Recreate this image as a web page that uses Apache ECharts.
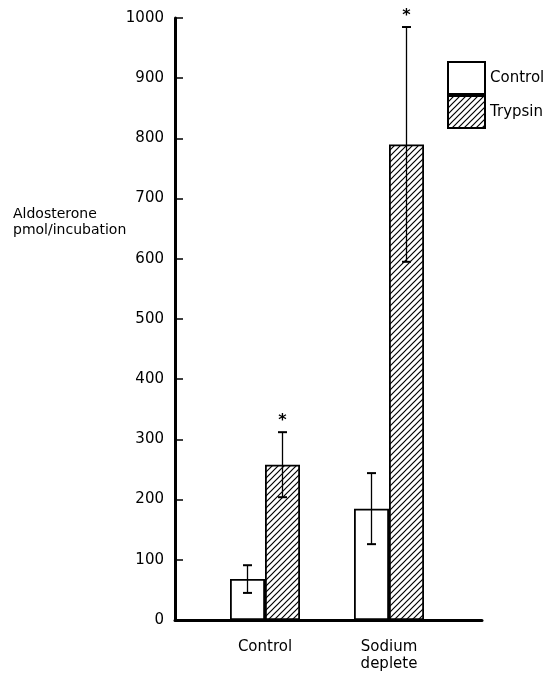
<!DOCTYPE html>
<html>
<head>
<meta charset="utf-8">
<script src="https://cdn.jsdelivr.net/npm/echarts@6/dist/echarts.min.js"></script>
<style>
  html, body { margin: 0; padding: 0; background: #fff; }
  #chart { width: 544px; height: 674px; }
</style>
</head>
<body>
<div id="chart"></div>
<script>
// ---- data ----
const categories = ['Control', 'Sodium\ndeplete'];
const seriesNames = ['Control', 'Trypsin'];
const controlMean = [68, 185];
const controlErr = [23, 59];
const trypsinMean = [258, 790];
const trypsinErr = [54, 195];
const trypsinSignificant = [true, true];
const yTicks = [0, 100, 200, 300, 400, 500, 600, 700, 800, 900, 1000];
const yAxisTitle = 'Aldosterone\npmol/incubation';

// ---- styling ----
const FONT = 'DejaVu Sans';
const BAR_W = 35;

function hatchPattern() {
  const c = document.createElement('canvas');
  const s = 6;
  c.width = s; c.height = s;
  const ctx = c.getContext('2d');
  ctx.fillStyle = '#fff';
  ctx.fillRect(0, 0, s, s);
  ctx.strokeStyle = '#000';
  ctx.lineWidth = 1.2;
  ctx.beginPath();
  ctx.moveTo(-1, s + 1); ctx.lineTo(s + 1, -1);
  ctx.moveTo(-1, 1); ctx.lineTo(1, -1);
  ctx.moveTo(s - 1, s + 1); ctx.lineTo(s + 1, s - 1);
  ctx.stroke();
  return c;
}

function errData(means, errs, side, stars) {
  return means.map((m, i) => [i, m, errs[i], side, stars && stars[i] ? 1 : 0]);
}

function renderErr(params, api) {
  const i = api.value(0), m = api.value(1), e = api.value(2), side = api.value(3), star = api.value(4);
  const top = api.coord([i, m + e]);
  const bot = api.coord([i, m - e]);
  const x = top[0] + side * BAR_W / 2;
  const capW = 4.5;
  const children = [
    { type: 'line', shape: { x1: x, y1: top[1], x2: x, y2: bot[1] }, style: { stroke: '#000', lineWidth: 1.3 } },
    { type: 'line', shape: { x1: x - capW, y1: top[1], x2: x + capW, y2: top[1] }, style: { stroke: '#000', lineWidth: 2 } },
    { type: 'line', shape: { x1: x - capW, y1: bot[1], x2: x + capW, y2: bot[1] }, style: { stroke: '#000', lineWidth: 2 } }
  ];
  if (star) {
    children.push({ type: 'text', style: { text: '*', x: x, y: top[1] - 3, align: 'center', verticalAlign: 'bottom', font: 'bold 16px "' + FONT + '"', fill: '#000' } });
  }
  return { type: 'group', children: children };
}

const chart = echarts.init(document.getElementById('chart'), null, { renderer: 'canvas' });
const hatch = { image: hatchPattern(), repeat: 'repeat' };

chart.setOption({
  animation: false,
  backgroundColor: '#fff',
  title: {
    text: yAxisTitle, left: 8, top: 201,
    textStyle: { fontFamily: FONT, fontSize: 14, fontWeight: 'normal', color: '#000', lineHeight: 16 }
  },
  legend: {
    orient: 'vertical', left: 442, top: 56, itemWidth: 37, itemHeight: 32, itemGap: 0,
    icon: 'rect', data: seriesNames,
    textStyle: { fontFamily: FONT, fontSize: 15, color: '#000' }
  },
  grid: [
    { left: 203, width: 248, top: 18, height: 602 },
    { left: 175, width: 307, top: 18, height: 602 }
  ],
  xAxis: [
    {
      type: 'category', gridIndex: 0, data: categories,
      axisLine: { show: false }, axisTick: { show: false },
      axisLabel: { margin: 19, fontFamily: FONT, fontSize: 15, color: '#000', lineHeight: 17 }
    },
    {
      type: 'value', gridIndex: 1, min: 0, max: 1,
      axisLine: { show: true, onZero: false, lineStyle: { color: '#000', width: 3 } },
      axisTick: { show: false }, axisLabel: { show: false }, splitLine: { show: false }
    }
  ],
  yAxis: [
    { type: 'value', gridIndex: 0, min: 0, max: 1000, interval: 100, show: false },
    {
      type: 'value', gridIndex: 1, min: yTicks[0], max: yTicks[yTicks.length - 1], interval: 100,
      axisLine: { show: true, lineStyle: { color: '#000', width: 3 } },
      axisTick: { show: true, inside: true, length: 8, lineStyle: { color: '#000', width: 1.5 } },
      axisLabel: { margin: 11, fontFamily: FONT, fontSize: 15, color: '#000', formatter: v => String(v) },
      splitLine: { show: false }
    }
  ],
  series: [
    {
      name: seriesNames[0], type: 'bar', xAxisIndex: 0, yAxisIndex: 0,
      data: controlMean, barWidth: BAR_W, barGap: '0%',
      itemStyle: { color: '#fff', borderColor: '#000', borderWidth: 1.8 }
    },
    {
      name: seriesNames[1], type: 'bar', xAxisIndex: 0, yAxisIndex: 0,
      data: trypsinMean, barWidth: BAR_W, barGap: '0%',
      itemStyle: { color: hatch, borderColor: '#000', borderWidth: 1.8 }
    },
    {
      type: 'custom', xAxisIndex: 0, yAxisIndex: 0, z: 10, clip: false,
      renderItem: renderErr, data: errData(controlMean, controlErr, -1, null)
    },
    {
      type: 'custom', xAxisIndex: 0, yAxisIndex: 0, z: 10, clip: false,
      renderItem: renderErr, data: errData(trypsinMean, trypsinErr, 1, trypsinSignificant)
    }
  ]
});
</script>
</body>
</html>
